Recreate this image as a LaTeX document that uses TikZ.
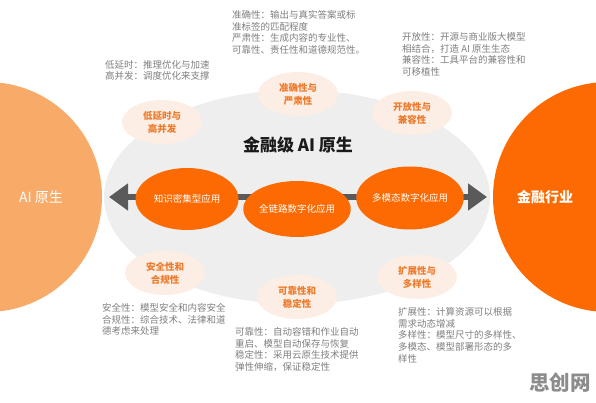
\documentclass[tikz,border=0pt]{standalone}
\usepackage{fontspec}
\setmainfont{Noto Sans CJK SC}
\usetikzlibrary{arrows.meta,shapes.geometric}
\definecolor{lightorg}{HTML}{F8AA69}
\definecolor{deeporg}{HTML}{FD6A02}
\definecolor{ovalgray}{HTML}{EEEEEE}
\definecolor{arrowgray}{HTML}{5A5A5A}
\definecolor{peach}{HTML}{FCEEE4}
\definecolor{peachtext}{HTML}{EE7B2C}
\definecolor{notegray}{HTML}{7F7F7F}
\definecolor{titleblack}{HTML}{1A1A1A}
\definecolor{wmgray}{HTML}{8C8C8C}
\begin{document}
\begin{tikzpicture}[x=1pt,y=-1pt,
  bigcircle/.style={circle,minimum size=230pt,inner sep=0pt,draw=none},
  appoval/.style={ellipse,fill=deeporg,inner sep=0pt,text=white,font=\fontsize{9.5}{12}\selectfont},
  pillar/.style={ellipse,fill=peach,minimum width=80pt,minimum height=44pt,inner sep=0pt,
     text=peachtext,align=center,font=\fontsize{9.5}{13}\selectfont\bfseries},
  note/.style={anchor=north west,inner sep=0pt,align=left,text=notegray,
     font=\fontsize{9.5}{11.8}\selectfont},
  arrowline/.style={draw=arrowgray,line width=6pt,
     {Triangle[width=26pt,length=19pt]}-{Triangle[width=26pt,length=19pt]}}
]
\useasboundingbox (0,0) rectangle (596,403);
\begin{scope}
\clip (0,0) rectangle (596,403);
\node[bigcircle,fill=lightorg] (aicircle) at (-13,197) {};
\node[bigcircle,fill=deeporg] (fincircle) at (608,197) {};
\end{scope}
\node[text=white,font=\fontsize{14}{16}\selectfont] (ailabel) at (41,197) {AI 原生};
\node[text=white,font=\fontsize{14}{16}\selectfont\bfseries] (finlabel) at (545,197) {金融行业};

\node[ellipse,fill=ovalgray,minimum width=386pt,minimum height=214pt,inner sep=0pt] (core) at (297,197) {};
\node[text=titleblack,font=\fontsize{17}{19}\selectfont\bfseries] (title) at (298,145) {金融级 AI 原生};

\coordinate (ltip) at (109,197);
\coordinate (rtip) at (487,197);
\draw[arrowline] (ltip) -- (rtip);

\node[appoval,minimum width=103pt,minimum height=62pt] (know) at (187,199) {知识密集型应用};
\node[appoval,minimum width=106pt,minimum height=56pt] (chain) at (297,209) {全链路数字化应用};
\node[appoval,minimum width=107pt,minimum height=63pt] (multi) at (410,198) {多模态数字化应用};

\node[pillar] (lat) at (162,122) {低延时与\\高并发};
\node[pillar] (acc) at (298,94) {准确性与\\严肃性};
\node[pillar] (open) at (412,113) {开放性与\\兼容性};
\node[pillar] (sec) at (165,273) {安全性和\\合规性};
\node[pillar] (rel) at (297,297) {可靠性和\\稳定性};
\node[pillar] (ext) at (417,277) {扩展性与\\多样性};

\node[note] (accnote) at (232,10) {准确性：输出与真实答案或标\\准标签的匹配程度\\严肃性：生成内容的专业性、\\可靠性、责任性和道德规范性。};
\node[note] (opennote) at (402,32) {开放性：开源与商业版大模型\\相结合，打造 AI 原生生态\\兼容性：工具平台的兼容性和\\可移植性};
\node[note] (latnote) at (105,60) {低延时：推理优化与加速\\高并发：调度优化来支撑};
\node[note] (secnote) at (102,303) {安全性：模型安全和内容安全\\合规性：综合技术、法律和道\\德考虑来处理};
\node[note] (relnote) at (235,327) {可靠性：自动容错和作业自动\\重启、模型自动保存与恢复\\稳定性：采用云原生技术提供\\弹性伸缩，保证稳定性};
\node[note] (extnote) at (398,307) {扩展性：计算资源可以根据\\需求动态增减\\多样性：模型尺寸的多样性、\\多模态、模型部署形态的多\\样性};

\node[text=wmgray,font=\fontsize{20.5}{22}\selectfont\bfseries] (wm) at (560,383) {思创网};
\end{tikzpicture}
\end{document}
